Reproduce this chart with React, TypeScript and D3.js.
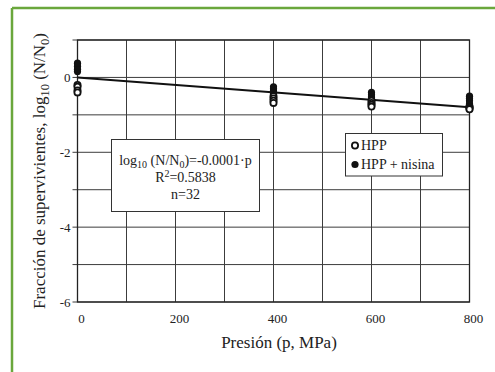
import React from "react";
import * as d3 from "d3";

const pressures = [0, 400, 600, 800];
const hppValues = [
  [-0.2, -0.25, -0.35, -0.4],
  [-0.5, -0.56, -0.62, -0.68],
  [-0.62, -0.68, -0.73, -0.78],
  [-0.78, -0.8, -0.83, -0.85],
];
const nisinaValues = [
  [0.16, 0.22, 0.3, 0.38],
  [-0.25, -0.3, -0.36, -0.42],
  [-0.4, -0.46, -0.52, -0.58],
  [-0.5, -0.56, -0.62, -0.7],
];
const xTicks = [0, 200, 400, 600, 800];
const xGrid = [100, 200, 300, 400, 500, 600, 700];
const yTicks = [0, -2, -4, -6];
const yGrid = [1, 0, -1, -2, -3, -4, -5, -6];
const fitSlope = -0.001;

const W = 495;
const H = 372;
const M = { left: 77.5, right: 469.5, top: 40, bottom: 302 };
const FONT = "Liberation Serif, Times New Roman, serif";

export default function App() {
  const x = d3.scaleLinear().domain([0, 800]).range([M.left, M.right]);
  const y = d3.scaleLinear().domain([-6, 1]).range([M.bottom, M.top]);
  const line = d3
    .line<number>()
    .x((p) => x(p))
    .y((p) => y(fitSlope * p));

  return (
    <svg
      width={W}
      height={H}
      style={{ position: "absolute", left: 0, top: 0, display: "block", background: "#fff", fontFamily: FONT }}
    >
      {/* green frame */}
      <line x1={12} y1={8} x2={W} y2={8} stroke="#6aa73c" strokeWidth={2.5} />
      <line x1={12} y1={8} x2={12} y2={H} stroke="#6aa73c" strokeWidth={2.5} />

      {/* grid */}
      {xGrid.map((v) => (
        <line key={"xg" + v} x1={x(v)} x2={x(v)} y1={M.top} y2={M.bottom} stroke="#3c3c3c" strokeWidth={1} />
      ))}
      {yGrid.map((v) => (
        <line key={"yg" + v} x1={M.left - 5} x2={M.right} y1={y(v)} y2={y(v)} stroke="#3c3c3c" strokeWidth={1} />
      ))}
      <rect x={M.left} y={M.top} width={M.right - M.left} height={M.bottom - M.top} fill="none" stroke="#222" strokeWidth={1.3} />

      {/* y tick labels */}
      {yTicks.map((v) => (
        <text key={"yt" + v} x={M.left - 7} y={y(v)} dy="0.35em" textAnchor="end" fontSize={13} fill="#222">
          {v}
        </text>
      ))}
      {/* x tick labels */}
      {xTicks.map((v) => (
        <text key={"xt" + v} x={x(v) + 4} y={323} textAnchor="middle" fontSize={13} fill="#222">
          {v}
        </text>
      ))}

      {/* axis titles */}
      <text x={279} y={348} textAnchor="middle" fontSize={17} fill="#222">
        Presión (p, MPa)
      </text>
      <text transform="translate(45,171) rotate(-90)" textAnchor="middle" fontSize={17} fill="#222">
        Fracción de supervivientes, log
        <tspan fontSize={12.5} dy={4}>10</tspan>
        <tspan dy={-4}> (N/N</tspan>
        <tspan fontSize={12.5} dy={4}>0</tspan>
        <tspan dy={-4}>)</tspan>
      </text>

      {/* regression line */}
      <path d={line([0, 800]) || ""} fill="none" stroke="#111" strokeWidth={2} />

      {/* points */}
      {nisinaValues.map((vals, i) =>
        vals.map((v, j) => (
          <circle key={"n" + i + "-" + j} cx={x(pressures[i])} cy={y(v)} r={3.6} fill="#111" />
        ))
      )}
      {hppValues.map((vals, i) =>
        vals.map((v, j) => (
          <circle key={"h" + i + "-" + j} cx={x(pressures[i])} cy={y(v)} r={3.1} fill="#fff" stroke="#111" strokeWidth={1.8} />
        ))
      )}

      {/* equation box */}
      <rect x={111.5} y={139.5} width={148} height={72} fill="#fff" stroke="#333" strokeWidth={1} />
      <text x={185.5} y={165} textAnchor="middle" fontSize={14} fill="#222">
        log<tspan fontSize={10} dy={3}>10</tspan>
        <tspan dy={-3}> (N/N</tspan>
        <tspan fontSize={10} dy={3}>0</tspan>
        <tspan dy={-3}>)=-0.0001·p</tspan>
      </text>
      <text x={185.5} y={182} textAnchor="middle" fontSize={14} fill="#222">
        R<tspan fontSize={10} dy={-5}>2</tspan>
        <tspan dy={5}>=0.5838</tspan>
      </text>
      <text x={185.5} y={199} textAnchor="middle" fontSize={14} fill="#222">
        n=32
      </text>

      {/* legend */}
      <rect x={345.5} y={133.5} width={97} height={42.5} fill="#fff" stroke="#333" strokeWidth={1} />
      <circle cx={355} cy={145.5} r={3.1} fill="#fff" stroke="#111" strokeWidth={1.8} />
      <text x={361} y={150} fontSize={14} fill="#222">HPP</text>
      <circle cx={355} cy={164.5} r={3.6} fill="#111" />
      <text x={361} y={169} fontSize={14} fill="#222">HPP + nisina</text>
    </svg>
  );
}
